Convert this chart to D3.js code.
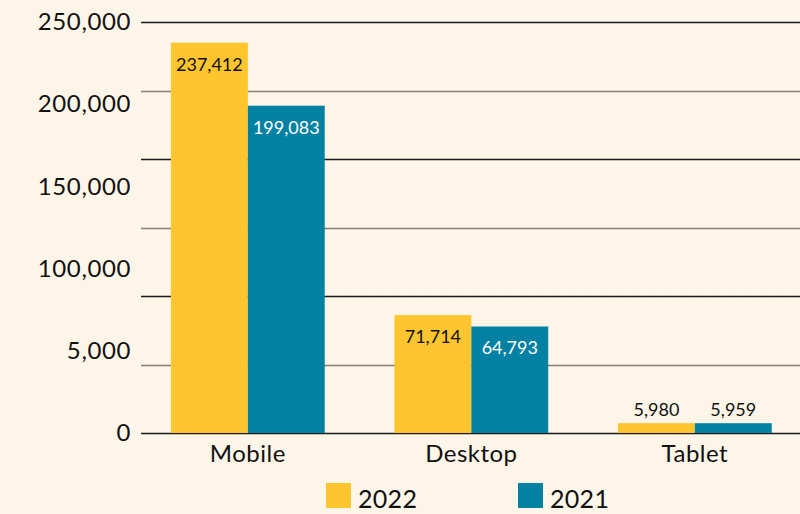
<!DOCTYPE html>
<html>
<head>
<meta charset="utf-8">
<script src="https://cdn.jsdelivr.net/npm/d3@7"></script>
<style>
  html, body { margin: 0; padding: 0; background: #FEF5E9; }
  svg { display: block; font-family: "Lato", "Open Sans", sans-serif; }
</style>
</head>
<body>
<svg id="chart" width="800" height="514"></svg>
<script>
const categories = ["Mobile", "Desktop", "Tablet"];
const seriesNames = ["2022", "2021"];
const values2022 = [237412, 71714, 5980];
const values2021 = [199083, 64793, 5959];
const tickValues = [0, 50000, 100000, 150000, 200000, 250000];
const tickLabels = ["0", "5,000", "100,000", "150,000", "200,000", "250,000"];
const gridValues = [0, 1, 2, 3, 4, 5, 6].map(i => i * 250000 / 6);
const colors = { "2022": "#FFC52F", "2021": "#0281A3" };

(function () {
const svg = d3.select("#chart");
const mLeft = 141, mRight = 800, mTop = 22, mBottom = 433;

const x = d3.scaleBand().domain(categories).range([mLeft, 801.7]).paddingInner(0.312).paddingOuter(0.134);
const xs = d3.scaleBand().domain(seriesNames).range([0, x.bandwidth()]);
const y = d3.scaleLinear().domain([0, 250000]).range([mBottom, mTop]);

// gridlines
svg.append("g").selectAll("line").data(gridValues).join("line")
  .attr("x1", mLeft).attr("x2", mRight)
  .attr("y1", d => Math.round(y(d)) + 0.5).attr("y2", d => Math.round(y(d)) + 0.5)
  .attr("stroke", (d, i) => i % 2 === 0 ? "#1a1a1a" : "#857e74")
  .attr("stroke-width", 1.3);

// y axis labels
const yAxis = d3.axisLeft(y).tickValues(tickValues).tickFormat((d, i) => tickLabels[i]).tickSize(0).tickPadding(0);
const yg = svg.append("g").attr("transform", "translate(131,0)").call(yAxis);
yg.select(".domain").remove();
yg.selectAll("text").attr("font-size", 24).attr("letter-spacing", 0.6).attr("fill", "#111").attr("font-family", "Lato, sans-serif");

const data = categories.map((c, i) => ({ cat: c, vals: [
  { s: "2022", v: values2022[i] }, { s: "2021", v: values2021[i] } ] }));

const groups = svg.append("g").selectAll("g").data(data).join("g")
  .attr("transform", d => `translate(${x(d.cat)},0)`);

groups.selectAll("rect").data(d => d.vals).join("rect")
  .attr("x", d => xs(d.s)).attr("width", xs.bandwidth())
  .attr("y", d => y(d.v)).attr("height", d => mBottom - y(d.v))
  .attr("fill", d => colors[d.s]);

groups.selectAll("text.val").data(d => d.vals).join("text")
  .attr("class", "val")
  .attr("x", d => xs(d.s) + xs.bandwidth() / 2)
  .attr("y", d => (mBottom - y(d.v)) > 40 ? y(d.v) + 28 : y(d.v) - 7)
  .attr("text-anchor", "middle")
  .attr("font-size", 18)
  .attr("fill", d => ((mBottom - y(d.v)) > 40 && d.s === "2021") ? "#ffffff" : "#111")
  .text(d => d3.format(",")(d.v));

// x axis labels
const xAxis = d3.axisBottom(x).tickSize(0).tickPadding(0);
const xg = svg.append("g").attr("transform", `translate(0,${mBottom + 12})`).call(xAxis);
xg.select(".domain").remove();
xg.selectAll("text").attr("font-size", 24).attr("letter-spacing", 0.5).attr("fill", "#111").attr("font-family", "Lato, sans-serif");

// legend
const legendX = [326, 518];
const leg = svg.append("g").selectAll("g").data(seriesNames).join("g")
  .attr("transform", (d, i) => `translate(${legendX[i]},483)`);
leg.append("rect").attr("width", 25).attr("height", 25).attr("fill", d => colors[d]);
leg.append("text").attr("x", 32).attr("y", 24.5).attr("font-size", 25).attr("letter-spacing", 0.3).attr("fill", "#111").text(d => d);
})();
</script>
</body>
</html>
